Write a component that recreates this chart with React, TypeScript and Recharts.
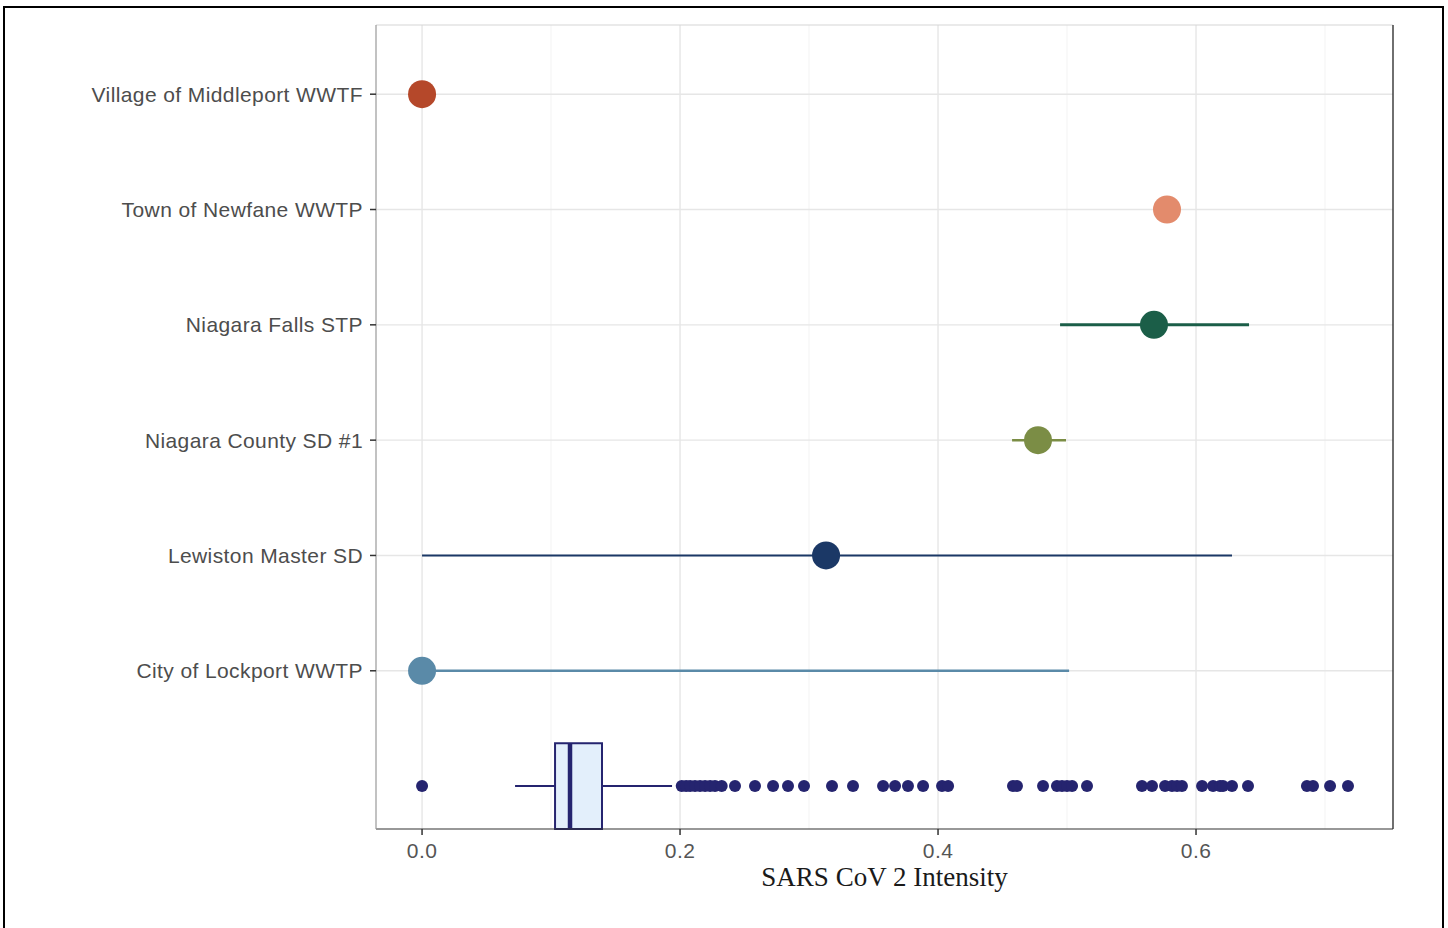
import React from "react";
import {
  ScatterChart, Scatter, XAxis, YAxis, ReferenceLine, ReferenceArea, Cell,
} from "recharts";

// sites, top to bottom
const sites = [
  "Village of Middleport WWTF",
  "Town of Newfane WWTP",
  "Niagara Falls STP",
  "Niagara County SD #1",
  "Lewiston Master SD",
  "City of Lockport WWTP",
];
const means = [0, 0.5775, 0.5674, 0.4775, 0.3132, 0];
const lows = [0, 0.5775, 0.4946, 0.4574, 0, 0];
const highs = [0, 0.5775, 0.6411, 0.4992, 0.6279, 0.5016];
const siteColors = ["#b5482a", "#e38b6c", "#1b5e48", "#7b8d45", "#1b3866", "#5a8aa8"];
const rangeWidths = [0, 0, 3, 2.5, 2, 2.5];

// boxplot row (all samples)
const boxStats = { whiskerLo: 0.0721, q1: 0.1031, median: 0.1147, q3: 0.1395, whiskerHi: 0.1938 };
const outliers = [
  0, 0.2013, 0.2047, 0.2078, 0.2116, 0.2155, 0.2194, 0.2233, 0.2271, 0.2323, 0.2426,
  0.2581, 0.2721, 0.2837, 0.2961, 0.3178, 0.3341, 0.3574, 0.3667, 0.3767, 0.3884,
  0.4031, 0.4078, 0.4581, 0.4612, 0.4814, 0.4922, 0.4961, 0.5, 0.5039, 0.5155,
  0.5581, 0.5659, 0.576, 0.5814, 0.5853, 0.5891, 0.6047, 0.6132, 0.6186, 0.6209,
  0.6279, 0.6403, 0.686, 0.6907, 0.7039, 0.7178,
];

const xTicks = [0, 0.2, 0.4, 0.6];
const xMinor = [0.1, 0.3, 0.5, 0.7];
const xDomain = [-0.0357, 0.7527];
const boxHalf = 0.372;
const yDomain = [-boxHalf, 6.6];

const navy = "#25246f";
const labelFont = "'Liberation Sans', Arial, sans-serif";

const siteY = (i: number) => sites.length - i;

const pointData = sites.map((s, i) => ({ x: means[i], y: siteY(i), site: s }));
const outlierData = outliers.map((v) => ({ x: v, y: 0 }));

const noShape = () => <g />;

export default function App() {
  return (
    <div style={{ position: "absolute", left: 0, top: 0, width: 1448, height: 928, background: "#fff", overflow: "hidden" }}>
      <div style={{ position: "absolute", left: 3, top: 6, width: 1441, height: 940, border: "2.5px solid #000", boxSizing: "border-box" }} />
      <div style={{ position: "absolute", left: 0, top: 0 }}>
        <ScatterChart width={1448} height={928} margin={{ top: 25, right: 55, bottom: 0, left: 0 }}>
          <XAxis
            type="number"
            dataKey="x"
            domain={xDomain}
            allowDataOverflow
            ticks={xTicks}
            tickFormatter={(v: number) => v.toFixed(1)}
            height={99}
            tickSize={6}
            tickMargin={8}
            axisLine={{ stroke: "#333", strokeWidth: 1.2 }}
            tickLine={{ stroke: "#333", strokeWidth: 1.5 }}
            tick={{ fill: "#555", fontSize: 21, fontFamily: labelFont, letterSpacing: 0.4 }}
            label={{
              value: "SARS CoV 2 Intensity",
              position: "insideTop",
              offset: 38,
              fill: "#1a1a1a",
              fontSize: 27,
              fontFamily: "'Liberation Serif', 'Times New Roman', serif",
            }}
          />
          <YAxis
            type="number"
            dataKey="y"
            domain={yDomain}
            allowDataOverflow
            ticks={[1, 2, 3, 4, 5, 6]}
            tickFormatter={(v: number) => sites[sites.length - v]}
            width={376}
            tickSize={6}
            tickMargin={7}
            axisLine={{ stroke: "#999", strokeWidth: 1.2 }}
            tickLine={{ stroke: "#333", strokeWidth: 1.5 }}
            tick={{ fill: "#4d4d4d", fontSize: 21, fontFamily: labelFont, letterSpacing: 0.4 }}
          />

          {xMinor.map((v) => (
            <ReferenceLine key={"mn" + v} x={v} stroke="#f0f0f0" strokeWidth={0.8} />
          ))}
          {xTicks.map((v) => (
            <ReferenceLine key={"mj" + v} x={v} stroke="#e6e6e6" strokeWidth={1.4} />
          ))}
          {sites.map((s, i) => (
            <ReferenceLine key={"h" + s} y={siteY(i)} stroke="#e6e6e6" strokeWidth={1.4} />
          ))}
          <ReferenceLine y={yDomain[1]} stroke="#d6d6d6" strokeWidth={1.2} />
          <ReferenceLine x={xDomain[1]} stroke="#333" strokeWidth={1.4} />

          {/* boxplot of all samples */}
          <ReferenceArea
            x1={boxStats.q1}
            x2={boxStats.q3}
            y1={-boxHalf}
            y2={boxHalf}
            fill="#e3effb"
            fillOpacity={1}
            stroke={navy}
            strokeWidth={2}
          />
          <ReferenceLine
            segment={[{ x: boxStats.median, y: -boxHalf }, { x: boxStats.median, y: boxHalf }]}
            stroke={navy}
            strokeWidth={4.5}
          />
          <Scatter
            data={[{ x: boxStats.whiskerLo, y: 0 }, { x: boxStats.q1, y: 0 }]}
            line={{ stroke: navy, strokeWidth: 2 }}
            shape={noShape}
            isAnimationActive={false}
          />
          <Scatter
            data={[{ x: boxStats.q3, y: 0 }, { x: boxStats.whiskerHi, y: 0 }]}
            line={{ stroke: navy, strokeWidth: 2 }}
            shape={noShape}
            isAnimationActive={false}
          />
          <Scatter
            data={outlierData}
            isAnimationActive={false}
            shape={(p: any) => <circle cx={p.cx} cy={p.cy} r={6} fill={navy} />}
          />

          {/* site ranges */}
          {sites.map((s, i) =>
            highs[i] > lows[i] ? (
              <Scatter
                key={"r" + s}
                data={[{ x: lows[i], y: siteY(i) }, { x: highs[i], y: siteY(i) }]}
                line={{ stroke: siteColors[i], strokeWidth: rangeWidths[i] }}
                shape={noShape}
                isAnimationActive={false}
              />
            ) : null
          )}
          <Scatter
            data={pointData}
            isAnimationActive={false}
            shape={(p: any) => <circle cx={p.cx} cy={p.cy} r={14} fill={p.fill} />}
          >
            {pointData.map((d, i) => (
              <Cell key={d.site} fill={siteColors[i]} />
            ))}
          </Scatter>
        </ScatterChart>
      </div>
    </div>
  );
}
